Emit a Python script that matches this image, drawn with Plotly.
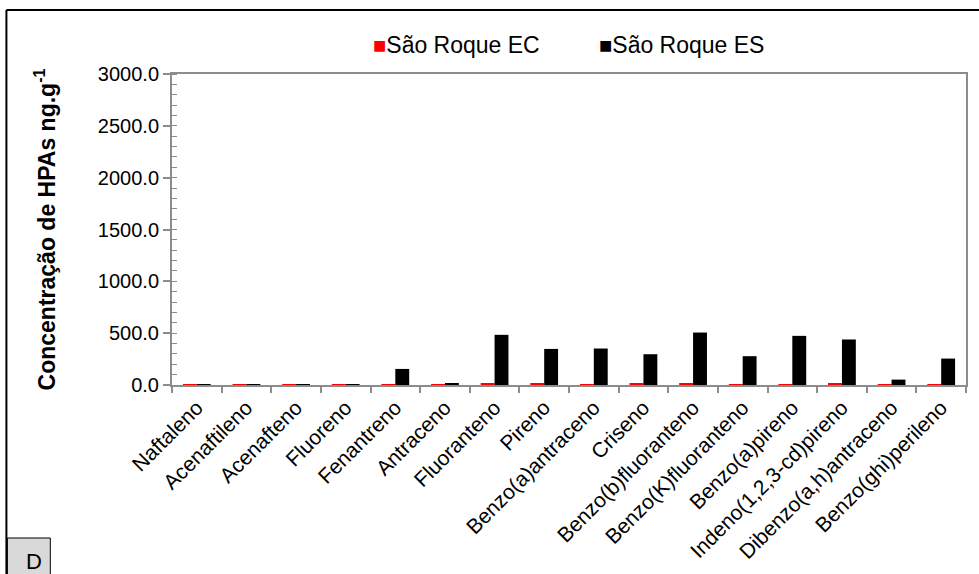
import plotly.graph_objects as go

# PAH compounds on the category axis
categories = [
    "Naftaleno", "Acenaftileno", "Acenafteno", "Fluoreno", "Fenantreno",
    "Antraceno", "Fluoranteno", "Pireno", "Benzo(a)antraceno", "Criseno",
    "Benzo(b)fluoranteno", "Benzo(K)fluoranteno", "Benzo(a)pireno",
    "Indeno(1,2,3-cd)pireno", "Dibenzo(a,h)antraceno", "Benzo(ghi)perileno",
]

# Concentrations (ng/g) for each sampling point
sao_roque_ec = [1, 1, 1, 2, 3, 2, 16, 14, 3, 13, 17, 3, 2, 10, 1, 2]
sao_roque_es = [2, 4, 4, 5, 155, 12, 484, 348, 352, 297, 506, 278, 474, 439, 52, 255]

series_names = ["São Roque EC", "São Roque ES"]
series_colors = ["#ff0000", "#000000"]

y_tickvals = [0, 500, 1000, 1500, 2000, 2500, 3000]
y_ticktext = ["0.0", "500.0", "1000.0", "1500.0", "2000.0", "2500.0", "3000.0"]

FONT = "Liberation Sans, Arial, sans-serif"
AXIS_GRAY = "#8c8c8c"

# plot-area geometry in pixels (used to place decorations in paper units)
L, R, T, B, W, H = 172, 11, 74, 189, 979, 574
PW, PH = W - L - R, H - T - B


def px(x):
    return (x - L) / PW


def py(y):
    return 1 - (y - T) / PH


fig = go.Figure()
for name, vals, color in zip(series_names, [sao_roque_ec, sao_roque_es], series_colors):
    fig.add_trace(go.Bar(name=name, x=categories, y=vals, showlegend=False,
                         marker=dict(color=color, line=dict(width=0))))

fig.update_layout(
    width=W, height=H,
    margin=dict(l=L, r=R, t=T, b=B),
    paper_bgcolor="white", plot_bgcolor="white",
    barmode="group", bargap=0.44, bargroupgap=0,
    font=dict(family=FONT, size=17, color="black"),
    showlegend=False,
    xaxis=dict(
        showline=True, linecolor=AXIS_GRAY, linewidth=2, mirror=True,
        ticks="outside", tickson="boundaries", ticklen=6, tickwidth=2, tickcolor=AXIS_GRAY,
        tickangle=-45, tickfont=dict(size=21), showgrid=False,
    ),
    yaxis=dict(
        range=[0, 3000], tickvals=y_tickvals, ticktext=y_ticktext,
        showline=True, linecolor=AXIS_GRAY, linewidth=2, mirror=True,
        ticks="outside", ticklen=7, tickwidth=2, tickcolor=AXIS_GRAY,
        minor=dict(dtick=100, ticks="inside", ticklen=5, tickwidth=1, tickcolor=AXIS_GRAY),
        showgrid=False, zeroline=False, tickfont=dict(size=20),
        title=dict(text="<b>Concentração de HPAs ng.g<sup>-1</sup></b>",
                   font=dict(size=23), standoff=36),
    ),
)

# Legend entries: colored square right before each series name
legend_left = [371, 598]
for name, color, x0 in zip(series_names, series_colors, legend_left):
    fig.add_annotation(
        text=f"<span style='color:{color};font-size:22px'>■</span>{name}",
        xref="paper", yref="paper", x=px(x0), y=py(45),
        xanchor="left", yanchor="middle", showarrow=False,
        font=dict(size=23, color="black"),
    )

# Outer frame (top and left edges) and the panel letter box
fig.add_shape(type="line", xref="paper", yref="paper",
              x0=px(6), x1=px(990), y0=py(10), y1=py(10),
              line=dict(color="black", width=2))
fig.add_shape(type="line", xref="paper", yref="paper",
              x0=px(6), x1=px(6), y0=py(10), y1=py(590),
              line=dict(color="black", width=2))
fig.add_shape(type="rect", xref="paper", yref="paper",
              x0=px(7), x1=px(50), y0=py(538), y1=py(590),
              fillcolor="#d9d9d9", line=dict(color="black", width=1))
fig.add_annotation(text="D", xref="paper", yref="paper",
                   x=px(34), y=py(561), showarrow=False,
                   font=dict(size=22, color="black"),
                   xanchor="center", yanchor="middle")

fig.write_html("out.html")
